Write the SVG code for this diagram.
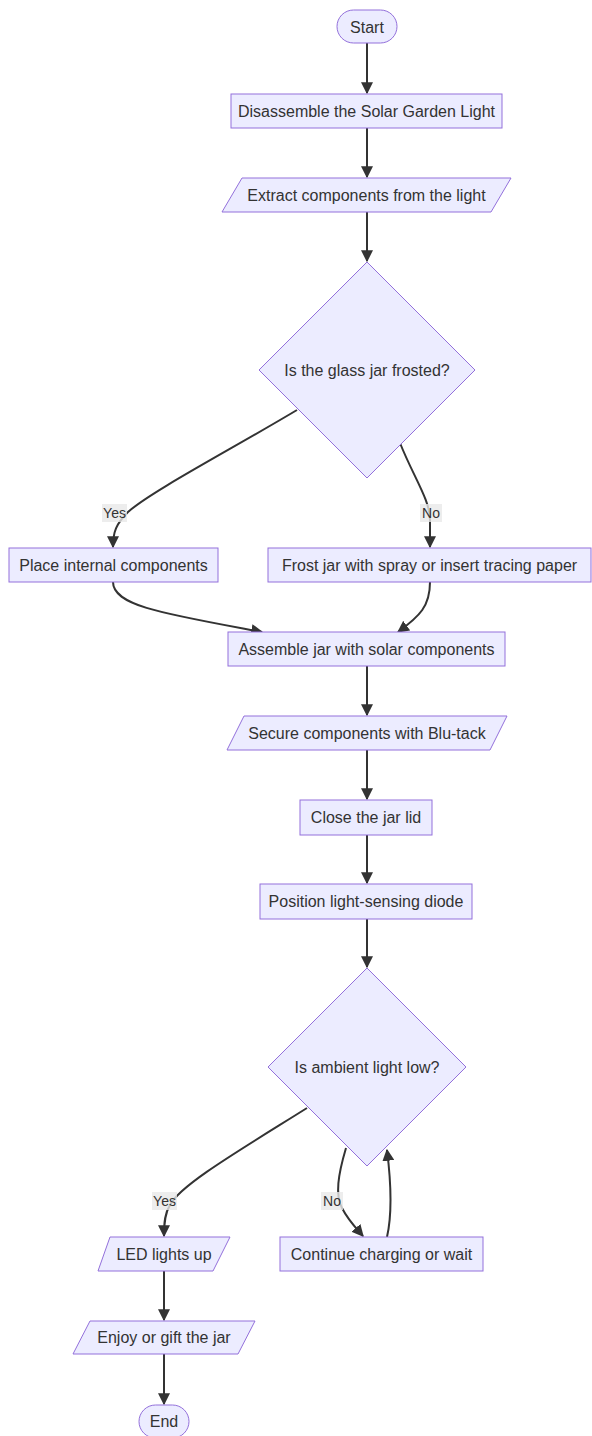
<svg xmlns="http://www.w3.org/2000/svg" width="592" height="1436" viewBox="0 0 592 1436">
<style>
.n{fill:#ECECFF;stroke:#9370DB;stroke-width:1}
.t{font-family:"Trebuchet MS","Liberation Sans",Arial,sans-serif;font-size:16px;fill:#333;text-anchor:middle;dominant-baseline:central}
.e{fill:none;stroke:#333;stroke-width:2}
.lb{fill:#e8e8e8;opacity:0.8}
.lt{font-family:"Trebuchet MS","Liberation Sans",Arial,sans-serif;font-size:14px;fill:#333;text-anchor:middle;dominant-baseline:central}
</style>
<defs>
<marker id="ah" viewBox="0 0 10 10" refX="9" refY="5" markerUnits="userSpaceOnUse" markerWidth="12" markerHeight="12" orient="auto">
<path d="M0,0 L10,5 L0,10 z" fill="#333"/>
</marker>
</defs>
<rect width="592" height="1436" fill="#fff"/>
<g id="connectors">
<path class="e" marker-end="url(#ah)" d="M367,43 L367,93"/>
<path class="e" marker-end="url(#ah)" d="M367,128 L367,177"/>
<path class="e" marker-end="url(#ah)" d="M367,212 L367,261"/>
<path class="e" marker-end="url(#ah)" d="M297,410 C230,450 150,492 128,512 C116,524 113,532 113,547"/>
<path class="e" marker-end="url(#ah)" d="M400,443 C414,478 430,500 430,520 L430,547"/>
<path class="e" marker-end="url(#ah)" d="M113,582 C113,606 165,614 262,632"/>
<path class="e" marker-end="url(#ah)" d="M430,582 C430,606 420,616 398,632"/>
<path class="e" marker-end="url(#ah)" d="M367,666 L367,715"/>
<path class="e" marker-end="url(#ah)" d="M367,750 L367,799"/>
<path class="e" marker-end="url(#ah)" d="M367,835 L367,883"/>
<path class="e" marker-end="url(#ah)" d="M367,919 L367,967"/>
<path class="e" marker-end="url(#ah)" d="M307,1108 C240,1150 180,1185 170,1205 C165,1213 164,1222 164,1236"/>
<path class="e" marker-end="url(#ah)" d="M346,1148 C338,1175 335,1195 342,1208 C348,1220 356,1228 363,1236"/>
<path class="e" marker-end="url(#ah)" d="M387,1237 C392,1215 392,1190 387,1150"/>
<path class="e" marker-end="url(#ah)" d="M164,1271 L164,1320"/>
<path class="e" marker-end="url(#ah)" d="M164,1354 L164,1404"/>
</g>
<g id="edge-labels">
<rect class="lb" x="102" y="504" width="25" height="18"/>
<text class="lt" x="114.5" y="513">Yes</text>
<rect class="lb" x="420" y="504" width="22" height="18"/>
<text class="lt" x="431" y="513">No</text>
<rect class="lb" x="152" y="1192" width="25" height="18"/>
<text class="lt" x="164.5" y="1201">Yes</text>
<rect class="lb" x="321" y="1192" width="22" height="18"/>
<text class="lt" x="332" y="1201">No</text>
</g>
<g id="start"><rect class="n" x="337" y="10" width="60" height="33" rx="16.5"/><text class="t" x="367" y="27">Start</text></g>
<g id="disassemble"><rect class="n" x="231" y="94" width="271" height="34"/><text class="t" x="366.5" y="111">Disassemble the Solar Garden Light</text></g>
<g id="extract"><polygon class="n" points="242,178 511,178 491,212 222,212"/><text class="t" x="366.5" y="195">Extract components from the light</text></g>
<g id="frosted"><polygon class="n" points="367,262 475,370 367,478 259,370"/><text class="t" x="367" y="370">Is the glass jar frosted?</text></g>
<g id="place"><rect class="n" x="9" y="548" width="209" height="34"/><text class="t" x="113.5" y="565">Place internal components</text></g>
<g id="frost"><rect class="n" x="268" y="548" width="323" height="34"/><text class="t" x="429.5" y="565">Frost jar with spray or insert tracing paper</text></g>
<g id="assemble"><rect class="n" x="228" y="632" width="277" height="34"/><text class="t" x="366.5" y="649">Assemble jar with solar components</text></g>
<g id="secure"><polygon class="n" points="244,716 507,716 490,750 227,750"/><text class="t" x="367" y="733">Secure components with Blu-tack</text></g>
<g id="close"><rect class="n" x="300" y="800" width="132" height="35"/><text class="t" x="366" y="817.5">Close the jar lid</text></g>
<g id="position"><rect class="n" x="260" y="884" width="212" height="35"/><text class="t" x="366" y="901.5">Position light-sensing diode</text></g>
<g id="ambient"><polygon class="n" points="367,968 466,1067 367,1166 268,1067"/><text class="t" x="367" y="1067">Is ambient light low?</text></g>
<g id="led"><polygon class="n" points="110,1237 230,1237 213,1271 98,1271"/><text class="t" x="164" y="1254">LED lights up</text></g>
<g id="continue"><rect class="n" x="280" y="1237" width="203" height="34"/><text class="t" x="381.5" y="1254">Continue charging or wait</text></g>
<g id="enjoy"><polygon class="n" points="90,1321 255,1321 238,1354 73,1354"/><text class="t" x="164" y="1337.5">Enjoy or gift the jar</text></g>
<g id="end"><rect class="n" x="139" y="1405" width="50" height="33" rx="16.5"/><text class="t" x="164" y="1421.5">End</text></g>
</svg>
